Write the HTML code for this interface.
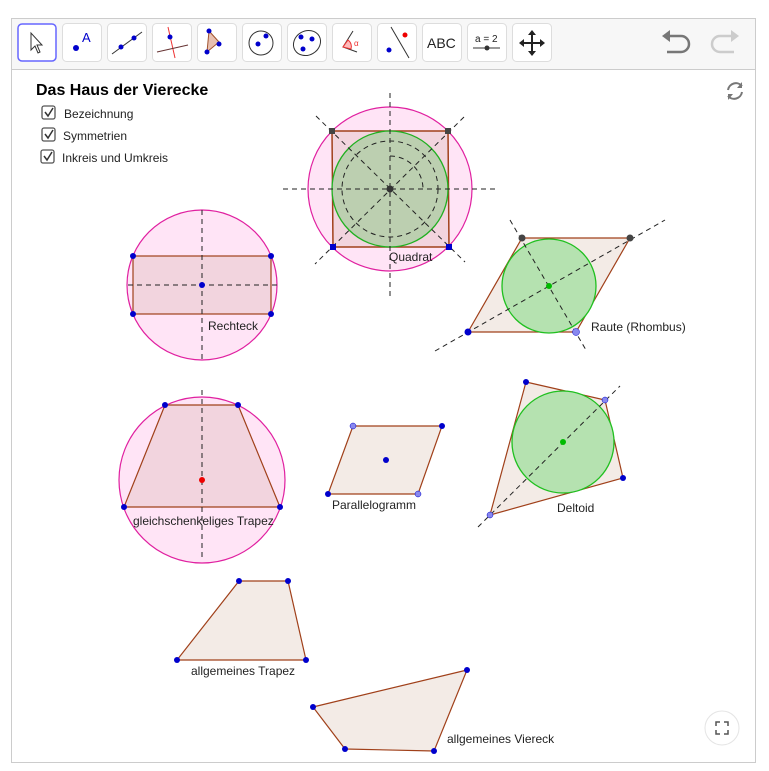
<!DOCTYPE html>
<html><head><meta charset="utf-8"><style>
body{margin:0;background:#fff;width:769px;height:771px;overflow:hidden;font-family:"Liberation Sans",sans-serif}
svg{position:absolute;left:0;top:0}
</style></head><body>
<svg width="769" height="771" viewBox="0 0 769 771" font-family="Liberation Sans, sans-serif">
<rect x="11.5" y="18.5" width="744" height="744" fill="#fff" stroke="#ccc"/>
<rect x="12" y="19" width="743" height="50" fill="#f7f7f7"/>
<line x1="12" y1="69.5" x2="755" y2="69.5" stroke="#ccc"/>
<g fill="#fff" stroke="#ddd">
<rect x="62.5" y="23.5" width="39" height="38" rx="4"/><rect x="107.5" y="23.5" width="39" height="38" rx="4"/><rect x="152.5" y="23.5" width="39" height="38" rx="4"/><rect x="197.5" y="23.5" width="39" height="38" rx="4"/><rect x="242.5" y="23.5" width="39" height="38" rx="4"/><rect x="287.5" y="23.5" width="39" height="38" rx="4"/><rect x="332.5" y="23.5" width="39" height="38" rx="4"/><rect x="377.5" y="23.5" width="39" height="38" rx="4"/><rect x="422.5" y="23.5" width="39" height="38" rx="4"/><rect x="467.5" y="23.5" width="39" height="38" rx="4"/><rect x="512.5" y="23.5" width="39" height="38" rx="4"/>
</g>
<rect x="18" y="24" width="38" height="37" rx="4" fill="#fff" stroke="#6666ff" stroke-width="1.5"/>
<path d="M31 33 L31 50 L35 46 L38 53 L40 52 L37 45 L42 45 Z" fill="#fff" stroke="#333"/>
<circle cx="76" cy="48" r="3" fill="#00c"/><text x="82" y="42" font-size="13" fill="#00c">A</text>
<line x1="112" y1="54" x2="142" y2="32" stroke="#333"/><circle cx="121" cy="47" r="2.5" fill="#00c"/><circle cx="134" cy="38" r="2.5" fill="#00c"/>
<line x1="168" y1="27" x2="175" y2="58" stroke="#e33"/><line x1="157" y1="52" x2="188" y2="45" stroke="#633"/><circle cx="170" cy="37" r="2.5" fill="#00c"/>
<path d="M209 31 L219 42 L207 52 Z" fill="#e8c0b0" stroke="#a0522d"/><circle cx="209" cy="31" r="2.5" fill="#00c"/><circle cx="219" cy="44" r="2.5" fill="#00c"/><circle cx="207" cy="52" r="2.5" fill="#00c"/>
<circle cx="261" cy="43" r="12" fill="none" stroke="#333"/><circle cx="258" cy="44" r="2.5" fill="#00c"/><circle cx="266" cy="36" r="2.5" fill="#00c"/>
<ellipse cx="307" cy="43" rx="14" ry="12" fill="none" stroke="#333" transform="rotate(-30 307 43)"/><circle cx="301" cy="37" r="2.5" fill="#00c"/><circle cx="312" cy="39" r="2.5" fill="#00c"/><circle cx="303" cy="49" r="2.5" fill="#00c"/>
<path d="M353 31 L343 47 L357 52" fill="none" stroke="#333"/><path d="M348 40 A8 8 0 0 1 351 49 L343 47Z" fill="#fbb" stroke="#e33"/><text x="354" y="46" font-size="8" fill="#e33">α</text>
<line x1="391" y1="27" x2="409" y2="58" stroke="#333"/><circle cx="389" cy="50" r="2.5" fill="#00c"/><circle cx="405" cy="35" r="2.5" fill="#e00"/>
<text x="427" y="48" font-size="14" fill="#222">ABC</text>
<text x="475" y="42" font-size="10" fill="#222">a = 2</text><line x1="473" y1="48" x2="500" y2="48" stroke="#333"/><circle cx="487" cy="48" r="2.5" fill="#333"/>
<g stroke="#222" stroke-width="2"><line x1="521" y1="43" x2="543" y2="43"/><line x1="532" y1="32" x2="532" y2="54"/></g>
<path d="M532 30 l-4 5 h8z M532 56 l-4 -5 h8z M519 43 l5 -4 v8z M545 43 l-5 -4 v8z" fill="#222"/>
<path d="M667 36 h14 a8 8 0 0 1 0 16 h-14" fill="none" stroke="#777" stroke-width="2.5"/><path d="M662 36 l8 -6 v12z" fill="#777"/>
<path d="M734 36 h-14 a8 8 0 0 0 0 16 h14" fill="none" stroke="#ccc" stroke-width="2.5"/><path d="M739 36 l-8 -6 v12z" fill="#ccc"/>
<text x="36" y="95" font-size="16" font-weight="bold" fill="#000">Das Haus der Vierecke</text>
<g stroke="#555" stroke-width="1.3" fill="#fff"><rect x="42" y="106" width="13" height="13" rx="2"/><rect x="42" y="128" width="13" height="13" rx="2"/><rect x="41" y="150" width="13" height="13" rx="2"/></g>
<g stroke="#333" stroke-width="1.5" fill="none"><path d="M45 112 l3 4 l5 -8"/><path d="M45 134 l3 4 l5 -8"/><path d="M44 156 l3 4 l5 -8"/></g>
<g font-size="12" fill="#222"><text x="64" y="118">Bezeichnung</text><text x="63" y="140">Symmetrien</text><text x="62" y="162">Inkreis und Umkreis</text></g>
<path d="M742 86 a8 8 0 0 0 -14 4 M728 96 a8 8 0 0 0 14 -4" fill="none" stroke="#777" stroke-width="2"/><path d="M742 82 v6 h-5z M728 100 v-6 h5z" fill="#777"/>
<!-- Quadrat -->
<circle cx="390" cy="189" r="82" fill="#ffe4f6" stroke="#e020a0" stroke-width="1.2"/>
<path d="M332 131 L448 131 L449 247 L333 247Z" fill="#f2d4de" stroke="#a0401a" stroke-width="1.5"/>
<circle cx="390" cy="189" r="58" fill="#bccfb0" stroke="#20b020" stroke-width="1.3"/>
<g stroke="#222" stroke-dasharray="5,4" fill="none">
<line x1="390" y1="93" x2="390" y2="296"/><line x1="283" y1="189" x2="496" y2="189"/>
<line x1="316" y1="116" x2="465" y2="262"/><line x1="464" y1="117" x2="315" y2="264"/>
<circle cx="390" cy="189" r="48"/><path d="M390 156 A33 33 0 0 1 423 189"/>
</g>
<circle cx="390" cy="189" r="3.5" fill="#333"/>
<rect x="329" y="128" width="6" height="6" fill="#444"/><rect x="445" y="128" width="6" height="6" fill="#444"/>
<rect x="330" y="244" width="6" height="6" fill="#00c"/><rect x="446" y="244" width="6" height="6" fill="#00c"/>
<text x="389" y="261" font-size="12" fill="#222">Quadrat</text>
<!-- Rechteck -->
<circle cx="202" cy="285" r="75" fill="#ffe4f6" stroke="#e020a0" stroke-width="1.2"/>
<rect x="133" y="256" width="138" height="58" fill="#f2d4de" stroke="#a0401a" stroke-width="1.2"/>
<g stroke="#222" stroke-dasharray="5,4"><line x1="202" y1="210" x2="202" y2="360"/><line x1="128" y1="285" x2="278" y2="285"/></g>
<g fill="#00c"><circle cx="133" cy="256" r="3"/><circle cx="271" cy="256" r="3"/><circle cx="133" cy="314" r="3"/><circle cx="271" cy="314" r="3"/><circle cx="202" cy="285" r="3"/></g>
<text x="208" y="330" font-size="12" fill="#222">Rechteck</text>
<!-- Raute -->
<path d="M522 238 L630 238 L576 332 L468 332Z" fill="#f3ebe6" stroke="#a0401a" stroke-width="1.2"/>
<circle cx="549" cy="286" r="47" fill="#b5e2b0" stroke="#20c020" stroke-width="1.3"/>
<g stroke="#222" stroke-dasharray="5,4"><line x1="435" y1="351" x2="665" y2="220"/><line x1="510" y1="220" x2="586" y2="350"/></g>
<circle cx="522" cy="238" r="3.5" fill="#444"/><circle cx="630" cy="238" r="3.5" fill="#444"/><circle cx="468" cy="332" r="3.5" fill="#00c"/><circle cx="576" cy="332" r="3.5" fill="#8888ee" stroke="#00c" stroke-width=".5"/><circle cx="549" cy="286" r="3" fill="#0b0"/>
<text x="591" y="331" font-size="12" fill="#222">Raute (Rhombus)</text>
<!-- gl Trapez -->
<circle cx="202" cy="480" r="83" fill="#ffe4f6" stroke="#e020a0" stroke-width="1.2"/>
<path d="M165 405 L238 405 L280 507 L124 507Z" fill="#f2d4de" stroke="#a0401a" stroke-width="1.2"/>
<line x1="202" y1="390" x2="202" y2="560" stroke="#222" stroke-dasharray="5,4"/>
<g fill="#00c"><circle cx="165" cy="405" r="3"/><circle cx="238" cy="405" r="3"/><circle cx="280" cy="507" r="3"/><circle cx="124" cy="507" r="3"/></g>
<circle cx="202" cy="480" r="3" fill="#e00"/>
<text x="133" y="525" font-size="12" fill="#222">gleichschenkeliges Trapez</text>
<!-- Parallelogramm -->
<path d="M353 426 L442 426 L418 494 L328 494Z" fill="#f3ebe6" stroke="#a0401a" stroke-width="1.2"/>
<circle cx="353" cy="426" r="3" fill="#8888ee" stroke="#00c" stroke-width=".5"/><circle cx="442" cy="426" r="3" fill="#00c"/><circle cx="418" cy="494" r="3" fill="#8888ee" stroke="#00c" stroke-width=".5"/><circle cx="328" cy="494" r="3" fill="#00c"/><circle cx="386" cy="460" r="3" fill="#00c"/>
<text x="332" y="509" font-size="12" fill="#222">Parallelogramm</text>
<!-- Deltoid -->
<path d="M526 382 L605 400 L623 478 L490 515Z" fill="#f3ebe6" stroke="#a0401a" stroke-width="1.2"/>
<circle cx="563" cy="442" r="51" fill="#b5e2b0" stroke="#20c020" stroke-width="1.3"/>
<line x1="478" y1="527" x2="620" y2="386" stroke="#222" stroke-dasharray="5,4"/>
<circle cx="526" cy="382" r="3" fill="#00c"/><circle cx="605" cy="400" r="3" fill="#8888ee" stroke="#00c" stroke-width=".5"/><circle cx="623" cy="478" r="3" fill="#00c"/><circle cx="490" cy="515" r="3" fill="#8888ee" stroke="#00c" stroke-width=".5"/><circle cx="563" cy="442" r="3" fill="#0b0"/>
<text x="557" y="512" font-size="12" fill="#222">Deltoid</text>
<!-- allg Trapez -->
<path d="M239 581 L288 581 L306 660 L177 660Z" fill="#f3ebe6" stroke="#a0401a" stroke-width="1.2"/>
<g fill="#00c"><circle cx="239" cy="581" r="3"/><circle cx="288" cy="581" r="3"/><circle cx="306" cy="660" r="3"/><circle cx="177" cy="660" r="3"/></g>
<text x="191" y="675" font-size="12" fill="#222">allgemeines Trapez</text>
<!-- Viereck -->
<path d="M313 707 L467 670 L434 751 L345 749Z" fill="#f3ebe6" stroke="#a0401a" stroke-width="1.2"/>
<g fill="#00c"><circle cx="313" cy="707" r="3"/><circle cx="467" cy="670" r="3"/><circle cx="434" cy="751" r="3"/><circle cx="345" cy="749" r="3"/></g>
<text x="447" y="743" font-size="12" fill="#222">allgemeines Viereck</text>
<circle cx="722" cy="728" r="17" fill="#fff" stroke="#e4e4e4"/>
<path d="M716 726 v-4 h4 M724 722 h4 v4 M728 730 v4 h-4 M720 734 h-4 v-4" fill="none" stroke="#555" stroke-width="1.5"/>
</svg>
</body></html>
